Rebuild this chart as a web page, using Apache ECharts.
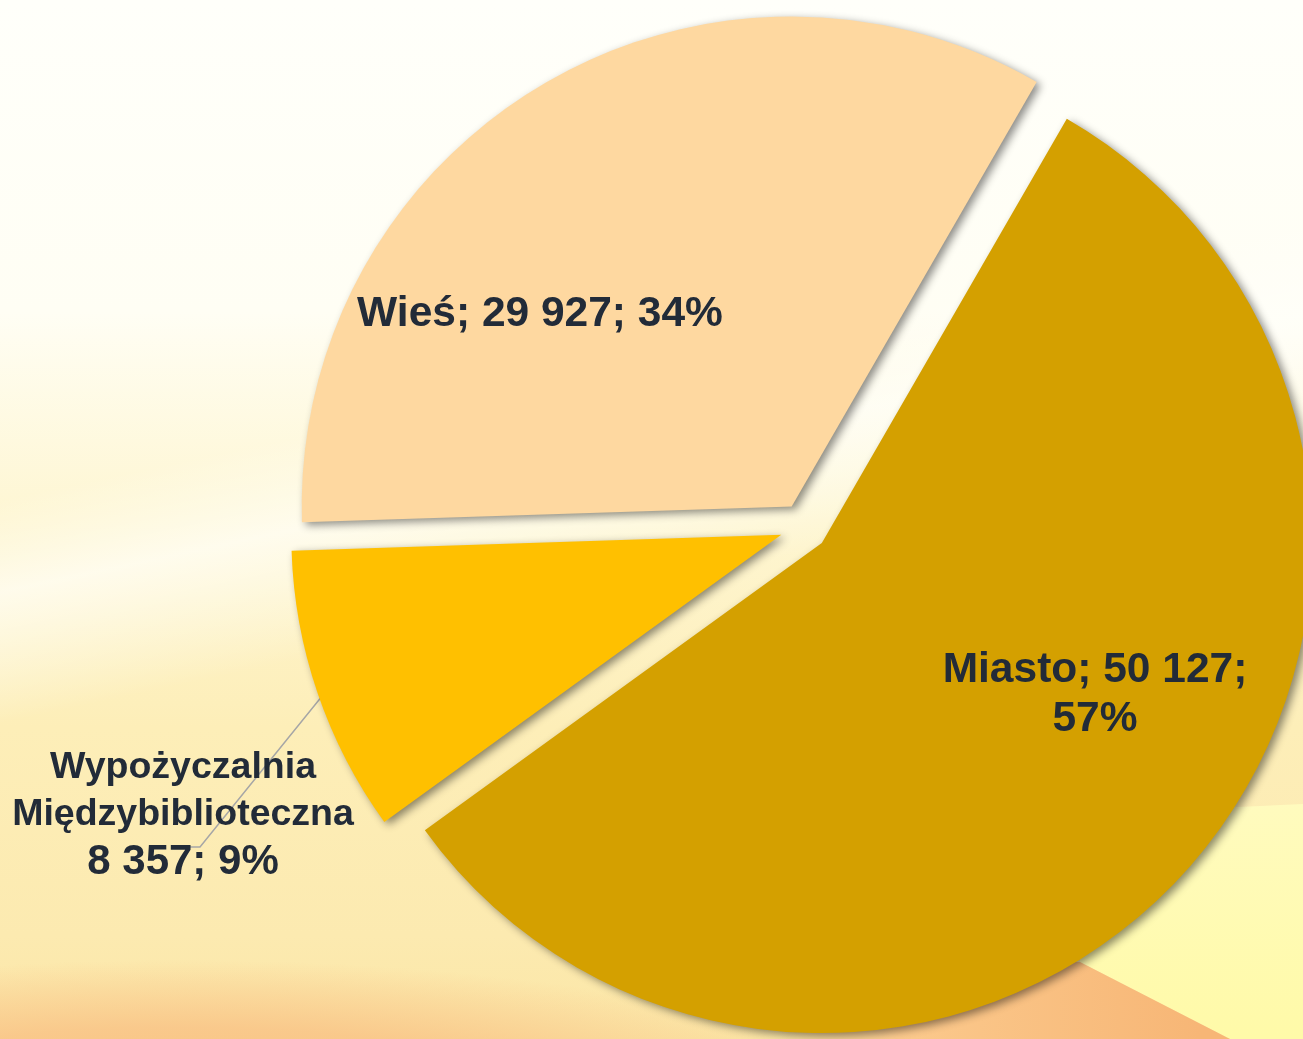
<!DOCTYPE html>
<html>
<head>
<meta charset="utf-8">
<script src="https://cdn.jsdelivr.net/npm/echarts@6/dist/echarts.min.js"></script>
<style>
  html, body { margin: 0; padding: 0; }
  body {
    position: relative;
    width: 1303px; height: 1039px; overflow: hidden;
    background:
      radial-gradient(ellipse 700px 150px at 180px 1110px, rgba(248,188,122,0.95) 0%, rgba(249,196,135,0.85) 55%, rgba(250,205,150,0) 100%),
      linear-gradient(168deg, rgba(255,255,255,0) 38%, rgba(255,255,250,0.7) 45%, rgba(255,255,255,0) 55%),
      linear-gradient(180deg, #fffffa 0%, #fffef4 30%, #fef6d2 50%, #fdeeb8 70%, #fceab0 90%, #fbe6a6 100%);
  }
  .deco { position: absolute; left: 0; top: 0; width: 1303px; height: 1039px; }
  .pale { background: linear-gradient(180deg, #fffbc0 780px, #fffaa8 1039px); clip-path: polygon(1080px 814px, 1303px 804px, 1303px 1039px, 1230px 1039px, 1080px 962px); }
  .orange { background: linear-gradient(90deg, rgba(250,200,140,0) 780px, #fbc98c 900px, #f7b676 1200px); clip-path: polygon(780px 950px, 1080px 962px, 1230px 1039px, 780px 1039px); }
  #chart { position: absolute; left: 0; top: 0; width: 1303px; height: 1039px; }
</style>
</head>
<body>
<div class="deco pale"></div>
<div class="deco orange"></div>
<div id="chart"></div>
<script>
const categories = ['Miasto', 'Wypożyczalnia\nMiędzybiblioteczna', 'Wieś'];
const values = [50127, 8357, 29927];
const percents = [57, 9, 34];
const colors = ['#D4A000', '#FFC000', '#FED8A0'];

// where Excel put each label (centre of the text block)
const labelSpots = [[1095, 695], [183, 815], [540, 314]];
const labelSizes = [42.5, 37.5, 42.5];

const fmt = v => String(v).replace(/\B(?=(\d{3})+(?!\d))/g, ' ');

const labelText = i => {
  const name = categories[i];
  if (i === 0) return name + '; ' + fmt(values[i]) + ';\n' + percents[i] + '%';
  if (i === 1) return name + '\n{v|' + fmt(values[i]) + '; ' + percents[i] + '%}';
  return name + '; ' + fmt(values[i]) + '; ' + percents[i] + '%';
};

const chart = echarts.init(document.getElementById('chart'));

const common = {
  type: 'pie',
  center: [804, 527],
  radius: 490,
  startAngle: 60,
  clockwise: true,
  avoidLabelOverlap: false,
  emphasis: { disabled: true }
};

chart.setOption({
  animation: false,
  backgroundColor: 'transparent',
  series: [
    Object.assign({}, common, {
      name: 'slices',
      selectedMode: 'multiple',
      selectedOffset: 24,
      itemStyle: {
        shadowBlur: 8,
        shadowColor: 'rgba(0, 0, 0, 0.45)',
        shadowOffsetX: 4,
        shadowOffsetY: 3
      },
      label: { show: false },
      labelLine: { show: false },
      data: categories.map((name, i) => ({
        name: name, value: values[i], selected: true,
        itemStyle: { color: colors[i] }
      }))
    }),
    Object.assign({}, common, {
      name: 'labels',
      silent: true,
      itemStyle: { color: 'rgba(0,0,0,0)' },
      label: {
        color: '#222b38',
        fontFamily: 'Liberation Sans, Arial, sans-serif',
        fontWeight: 'bold',
        align: 'center',
        rich: {
          v: {
            color: '#222b38',
            fontFamily: 'Liberation Sans, Arial, sans-serif',
            fontWeight: 'bold',
            fontSize: 42,
            lineHeight: 47
          }
        }
      },
      labelLine: {
        lineStyle: { color: '#a6a6a6', width: 1.5 }
      },
      labelLayout: function (params) {
        const p = labelSpots[params.dataIndex];
        const out = { x: p[0], y: p[1], align: 'center', verticalAlign: 'middle' };
        if (params.dataIndex === 1) {
          out.labelLinePoints = [[327, 690], [200, 847], [190, 847]];
        }
        return out;
      },
      data: categories.map((name, i) => ({
        name: name, value: values[i],
        label: {
          position: i === 1 ? 'outside' : 'inside',
          formatter: labelText(i),
          fontSize: labelSizes[i],
          lineHeight: i === 1 ? 47 : 49
        },
        labelLine: { show: i === 1 }
      }))
    })
  ]
});
</script>
</body>
</html>
